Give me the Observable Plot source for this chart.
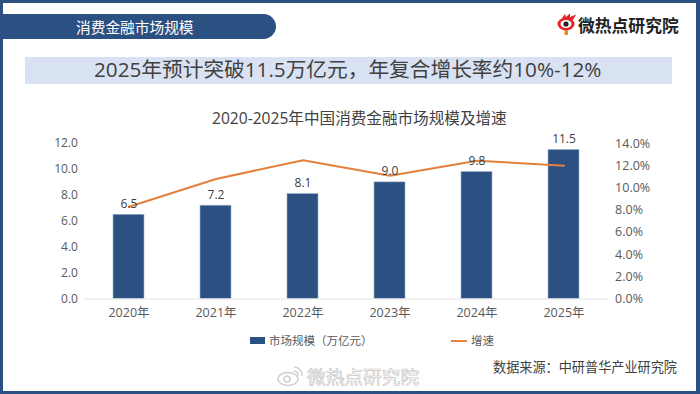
<!DOCTYPE html>
<html><head><meta charset="utf-8">
<script src="https://cdn.jsdelivr.net/npm/d3@7"></script>
<script src="https://cdn.jsdelivr.net/npm/@observablehq/plot@0.6"></script>
<style>
html,body{margin:0;padding:0;background:#fff;}
body{width:700px;height:394px;position:relative;overflow:hidden;font-family:"Open Sans","Noto Sans CJK SC",sans-serif;}
.abs{position:absolute;white-space:nowrap;line-height:1;}
#chart{position:absolute;left:0;top:0;}
</style></head><body>
<div id="chart"></div>
<div class="abs" style="left:0;top:0;width:700px;height:3px;background:#2b5082"></div>
<div class="abs" style="left:0;top:391px;width:700px;height:3px;background:#2b5082"></div>
<div class="abs" style="left:0;top:0;width:3px;height:394px;background:#2b5082"></div>
<div class="abs" style="left:696px;top:0;width:4px;height:394px;background:#2b5082"></div>
<div class="abs" style="left:3px;top:14px;width:273px;height:25px;background:#2b5082;border-radius:0 13px 13px 0"></div>
<div class="abs" style="left:76px;top:20px;font-size:14.7px;color:#fff">消费金融市场规模</div>
<div class="abs" style="left:25px;top:57px;width:647px;height:27px;background:#d9e2f2"></div>
<div class="abs" style="left:94px;top:59px;font-size:20.7px;color:#404040">2025年预计突破11.5万亿元，年复合增长率约10%-12%</div>
<div class="abs" style="left:212px;top:111px;font-size:15.6px;color:#404040">2020-2025年中国消费金融市场规模及增速</div>
<svg class="abs" style="left:556px;top:13px" width="22" height="24" viewBox="0 0 22 24">
  <ellipse cx="10" cy="11" rx="8.5" ry="6.5" fill="#e6222b"/>
  <ellipse cx="10" cy="11" rx="5.5" ry="4" fill="#fff"/>
  <circle cx="10" cy="11" r="2.6" fill="#222"/>
  <path d="M6 5 L9 1 L10 4 L14 0.5 L14 4 L20 1.5 L17 7Z" fill="#e6222b"/>
  <rect x="8.5" y="17" width="3.5" height="5" fill="#ee8a2b"/>
</svg>
<div class="abs" style="left:578px;top:18px;font-size:16.8px;font-weight:700;color:#222">微热点研究院</div>
<div class="abs" style="left:269px;top:335px;font-size:11.5px;color:#595959">市场规模（万亿元）</div>
<div class="abs" style="left:250px;top:337px;width:15px;height:7px;background:#2b5082"></div>
<div class="abs" style="left:451px;top:340px;width:16px;height:2px;background:#e9833d"></div>
<div class="abs" style="left:471px;top:335px;font-size:11.5px;color:#595959">增速</div>
<div class="abs" style="left:493px;top:361px;font-size:13.15px;color:#404040">数据来源：中研普华产业研究院</div>
<div class="abs" style="left:307px;top:368px;font-size:18.7px;color:#fff;-webkit-text-stroke:0.7px #c9c9c9">微热点研究院</div>
<svg class="abs" style="left:277px;top:365px" width="27" height="22" viewBox="0 0 27 22">
  <ellipse cx="11" cy="14" rx="10" ry="6.5" fill="#fff" stroke="#cfcfcf" stroke-width="1.5"/>
  <circle cx="10" cy="14" r="3" fill="none" stroke="#cfcfcf" stroke-width="1.5"/>
  <path d="M17 2 a8 8 0 0 1 8 9 M17 6 a4 4 0 0 1 4 5" fill="none" stroke="#cfcfcf" stroke-width="1.5"/>
</svg>
<script>
const years = ["2020年","2021年","2022年","2023年","2024年","2025年"];
const marketSize = [6.5,7.2,8.1,9.0,9.8,11.5];
const growth = [8.3,10.8,12.5,11.1,12.45,12.0];
const leftTicks = [0,2,4,6,8,10,12];
const rightTicks = [0,2,4,6,8,10,12,14];
const rightToLeft = 12/14;
const table = years.map((year,i)=>({year,size:marketSize[i],rate:growth[i]}));
const fontFamily = '"Open Sans","Noto Sans CJK SC",sans-serif';
const plot = Plot.plot({
  width:700,height:394,marginTop:143,marginBottom:95.5,marginLeft:84.4,marginRight:92.4,
  style:{fontFamily,background:"transparent",overflow:"visible"},
  x:{domain:years,paddingInner:0.644,paddingOuter:0.322,align:0.5,label:null},
  y:{domain:[0,12],label:null},
  marks:[
    Plot.barY(table,{x:"year",y:"size",fill:"#2b5082",stroke:"#9fb2cc",strokeWidth:0.6}),
    Plot.ruleY([0],{stroke:"#e6e6e6",strokeWidth:1.2}),
    Plot.lineY(table,{x:"year",y:d=>d.rate*rightToLeft,stroke:"#e57f3c",strokeWidth:2,curve:"linear"}),
    Plot.text(table,{x:"year",y:"size",text:d=>d.size.toFixed(1),dy:-11,fontSize:12,fill:"#404040"}),
    Plot.axisX({tickSize:0,tickPadding:9,fontSize:12.5,color:"#595959",label:null}),
    Plot.axisY({ticks:leftTicks,tickSize:0,tickPadding:7,fontSize:12,color:"#595959",label:null,tickFormat:d=>d.toFixed(1)}),
    Plot.axisY({anchor:"right",ticks:rightTicks.map(v=>v*rightToLeft),tickSize:0,tickPadding:7,fontSize:12.5,color:"#595959",label:null,tickFormat:d=>(d/rightToLeft).toFixed(1)+"%"})
  ]
});
document.getElementById("chart").appendChild(plot);
</script>
</body></html>
